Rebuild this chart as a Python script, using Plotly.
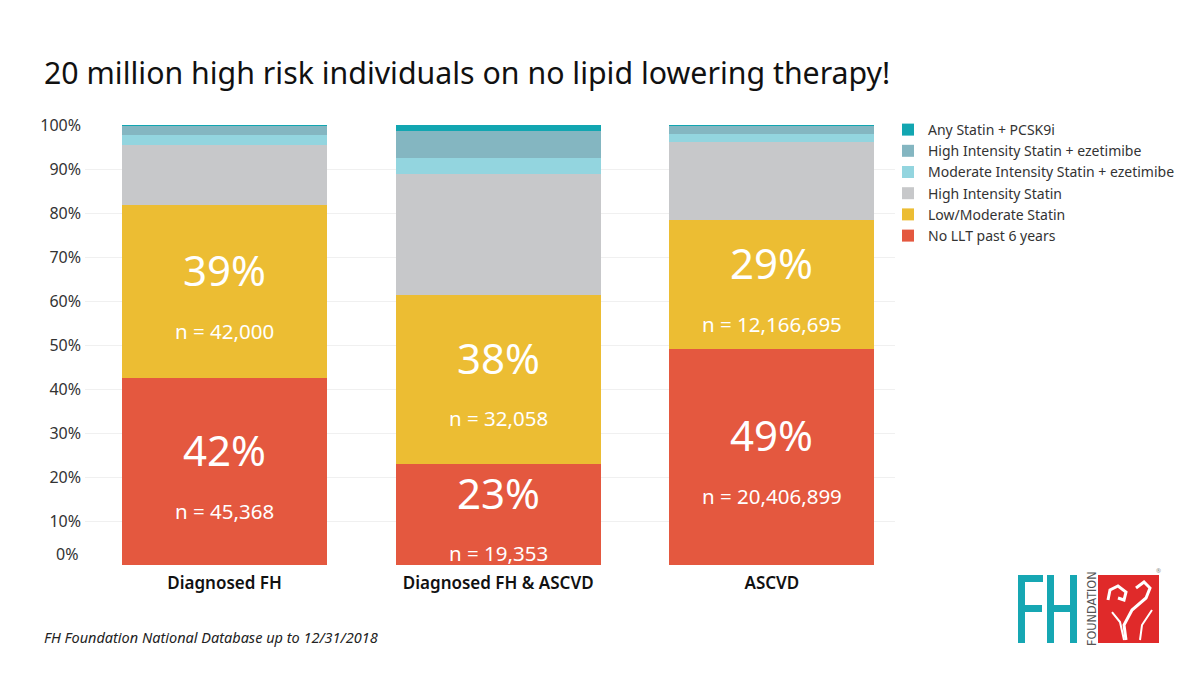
import plotly.graph_objects as go

categories = ["Diagnosed FH", "Diagnosed FH & ASCVD", "ASCVD"]

series_names = [
    "No LLT past 6 years",
    "Low/Moderate Statin",
    "High Intensity Statin",
    "Moderate Intensity Statin + ezetimibe",
    "High Intensity Statin + ezetimibe",
    "Any Statin + PCSK9i",
]
no_llt = [42.5, 23.0, 49.1]
low_mod = [39.3, 38.4, 29.3]
high_int = [13.7, 27.4, 17.8]
mod_eze = [2.3, 3.6, 1.8]
high_eze = [2.1, 6.2, 1.9]
pcsk9 = [0.1, 1.4, 0.1]

pct_labels_red = ["42%", "23%", "49%"]
n_labels_red = ["n = 45,368", "n = 19,353", "n = 20,406,899"]
pct_labels_yel = ["39%", "38%", "29%"]
n_labels_yel = ["n = 42,000", "n = 32,058", "n = 12,166,695"]

y_ticks = [0, 10, 20, 30, 40, 50, 60, 70, 80, 90, 100]

colors = ["#E4583F", "#ECBD33", "#C7C8CA", "#93D5DF", "#84B6C1", "#12A6B1"]
values = [no_llt, low_mod, high_int, mod_eze, high_eze, pcsk9]

FONT = "Noto Sans"
OFF = 8  # page body margin compensation
W, H = 1200 - OFF, 675 - OFF
PL, PR, PT, PB = 85, 895, 125, 565  # plot area in reference pixels


def px2paper(px, py):
    return (px - PL) / (PR - PL), (PB - py) / (PB - PT)


fig = go.Figure()
for name, vals, col in zip(series_names, values, colors):
    fig.add_trace(go.Bar(
        x=categories, y=vals, name=name,
        marker=dict(color=col, line=dict(width=0)),
        width=0.75, hoverinfo="name+y",
    ))

annotations = []
for i, cat in enumerate(categories):
    red_c = no_llt[i] / 2
    yel_c = no_llt[i] + low_mod[i] / 2
    for c, p, n in [(red_c, pct_labels_red[i], n_labels_red[i]),
                    (yel_c, pct_labels_yel[i], n_labels_yel[i])]:
        annotations.append(dict(x=cat, y=c, xref="x", yref="y", text=p,
                                showarrow=False, yshift=22,
                                font=dict(family=FONT, size=42, color="white")))
        annotations.append(dict(x=cat, y=c, xref="x", yref="y", text=n,
                                showarrow=False, yshift=-39,
                                font=dict(family=FONT, size=20.5, color="white")))

annotations.append(dict(x=0, y=0, xref="paper", yref="y", text="0%",
                        xanchor="right", yanchor="middle", xshift=-5, yshift=11,
                        showarrow=False, font=dict(family=FONT, size=16, color="#333333")))

tx, ty = px2paper(42, 72)
annotations.append(dict(x=tx, y=ty, xref="paper", yref="paper",
                        text="20 million high risk individuals on no lipid lowering therapy!",
                        xanchor="left", yanchor="middle", showarrow=False,
                        font=dict(family=FONT, size=30.3, color="#111111")))
fx_, fy_ = px2paper(42, 637)
annotations.append(dict(x=fx_, y=fy_, xref="paper", yref="paper",
                        text="<i>FH Foundation National Database up to 12/31/2018</i>",
                        xanchor="left", yanchor="middle", showarrow=False,
                        font=dict(family=FONT, size=14.5, color="#222222")))

fig.update_layout(annotations=annotations)


# ---- logo (decorative) ----
def rect(x0, y0, x1, y1, color):
    a0, b0 = px2paper(x0, y1)
    a1, b1 = px2paper(x1, y0)
    fig.add_shape(type="rect", xref="paper", yref="paper", x0=a0, y0=b0, x1=a1, y1=b1,
                  fillcolor=color, line=dict(width=0), layer="above")


TEAL = "#16A7B3"
rect(1098, 575, 1159, 643, "#E02A2A")
# F
rect(1018, 575, 1025, 643, TEAL)
rect(1018, 575, 1043, 582, TEAL)
rect(1018, 605, 1042, 612, TEAL)
# H
rect(1047, 575, 1054, 643, TEAL)
rect(1070, 575, 1077, 643, TEAL)
rect(1047, 605, 1077, 612, TEAL)


def pth(points):
    s = ""
    for k, (a, b) in enumerate(points):
        X, Y = px2paper(a, b)
        s += ("M" if k == 0 else "L") + f"{X:.5f},{Y:.5f} "
    return s


fig.add_shape(type="path", xref="paper", yref="paper",
              path=pth([(1108, 600), (1110, 590), (1118, 586), (1126, 592), (1124, 600), (1118, 598)]),
              line=dict(color="white", width=3), layer="above")
fig.add_shape(type="path", xref="paper", yref="paper",
              path=pth([(1126, 640), (1124, 625), (1132, 610), (1146, 598), (1150, 588), (1144, 582), (1136, 588)]),
              line=dict(color="white", width=3), layer="above")
fig.add_shape(type="path", xref="paper", yref="paper",
              path=pth([(1112, 612), (1120, 622), (1124, 640)]),
              line=dict(color="white", width=2), layer="above")
fig.add_shape(type="path", xref="paper", yref="paper",
              path=pth([(1140, 640), (1142, 625), (1152, 610)]),
              line=dict(color="white", width=2), layer="above")
gx, gy = px2paper(1091, 609)
fig.add_annotation(x=gx, y=gy, xref="paper", yref="paper", text="FOUNDATION", showarrow=False,
                   textangle=-90, xanchor="center", yanchor="middle",
                   font=dict(family="Liberation Sans Narrow, DejaVu Sans Condensed", size=12.5, color="#555555"))
rx, ry = px2paper(1163, 577)
fig.add_annotation(x=rx, y=ry, xref="paper", yref="paper", text="®", showarrow=False,
                   font=dict(family=FONT, size=6, color="#888888"))

lgx, lgy = px2paper(888, 114)
fig.update_layout(
    width=W, height=H,
    barmode="stack",
    bargap=0.25,
    plot_bgcolor="white", paper_bgcolor="white",
    margin=dict(l=PL - OFF, r=W - (PR - OFF), t=PT - OFF, b=H - (PB - OFF), autoexpand=False),
    font=dict(family=FONT, color="#333333"),
    showlegend=True,
    legend=dict(x=lgx, y=lgy, xanchor="left", yanchor="top",
                traceorder="reversed", font=dict(family=FONT, size=14, color="#333333"),
                itemwidth=30, tracegroupgap=0, bgcolor="rgba(0,0,0,0)"),
    xaxis=dict(range=[-0.51, 2.45], showgrid=False, zeroline=False, showline=False,
               ticks="", ticklabelstandoff=6,
               tickfont=dict(family=FONT, size=17, color="#111111", weight=600)),
    yaxis=dict(range=[0, 100], tickvals=y_ticks[1:], ticktext=[f"{v}%" for v in y_ticks[1:]],
               showgrid=True, gridcolor="#F0F0F0", gridwidth=1, zeroline=False,
               showline=False, ticks="", ticklabelstandoff=3,
               tickfont=dict(family=FONT, size=16, color="#333333")),
)

fig.write_html("out.html")
